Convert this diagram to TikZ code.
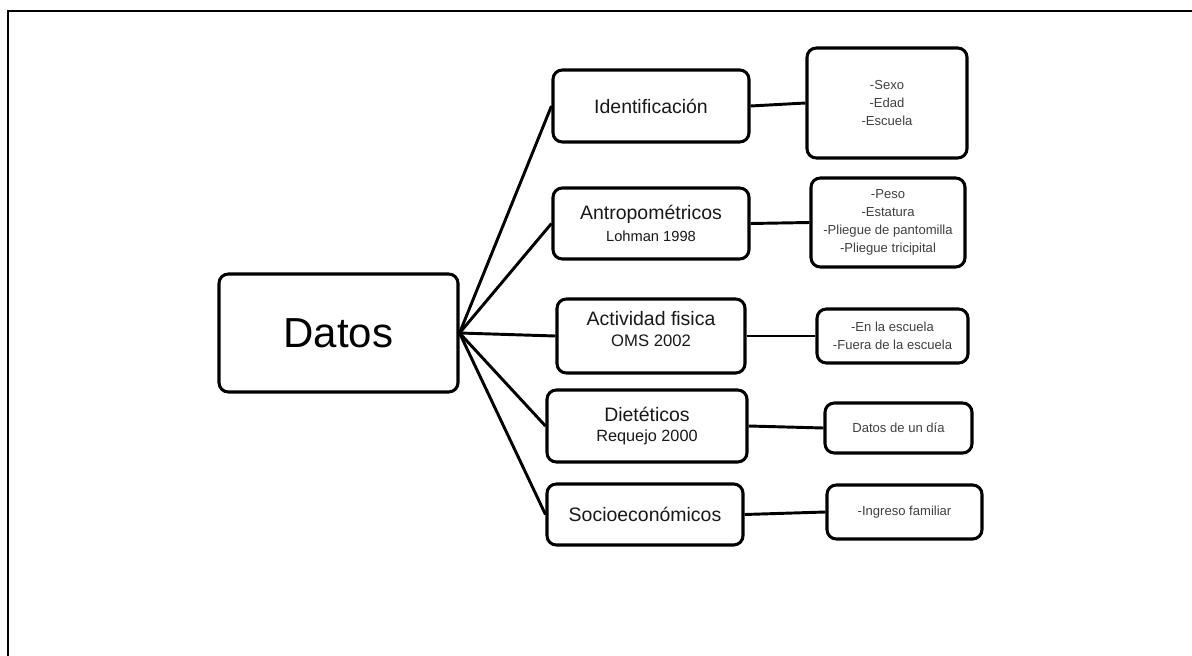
\documentclass[tikz,border=0pt]{standalone}
\usepackage{fontspec}
\setmainfont{Liberation Sans}
\begin{document}
\begin{tikzpicture}[x=0.75pt,y=-0.75pt,
  box/.style={draw=black,line width=2.3pt,rounded corners=7pt,inner sep=0pt,align=center,fill=white},
  conn/.style={draw=black,line width=2.2pt},
  smalltxt/.style={text=black!75,font=\fontsize{9.8}{13.5}\selectfont},
  midtxt/.style={text=black!90,font=\fontsize{14.6}{17}\selectfont}]
\useasboundingbox (0,0) rectangle (1192,656);
\draw[line width=1.6pt] (8,656) -- (8,11) -- (1192,11);

% root
\node[box,minimum width=179.25pt,minimum height=88.5pt,font=\fontsize{31.5}{36}\selectfont] (datos) at (338.5,333) {Datos};

% middle column
\node[box,midtxt,minimum width=147pt,minimum height=54pt] (ident) at (651,106) {Identificación};
\node[box,midtxt,minimum width=147pt,minimum height=53.25pt] (antro) at (651,223.5) {Antropométricos\\[-1pt]{\fontsize{11}{17}\selectfont Lohman 1998}};
\node[box,midtxt,minimum width=141pt,minimum height=55.5pt] (activ) at (651,336) {Actividad fisica\\[-1pt]{\fontsize{12.5}{17}\selectfont OMS 2002}\\[-6.5pt]};
\node[box,midtxt,minimum width=150pt,minimum height=54pt] (diet) at (647,426) {Dietéticos\\[-2pt]{\fontsize{12.2}{17}\selectfont Requejo 2000}};
\node[box,midtxt,minimum width=147pt,minimum height=45.75pt] (socio) at (645,514.5) {Socioeconómicos};

% right column
\node[box,smalltxt,minimum width=120pt,minimum height=82.5pt] (sexo) at (887,103) {-Sexo\\-Edad\\-Escuela};
\node[box,smalltxt,minimum width=115.5pt,minimum height=66.75pt] (peso) at (888,222.5) {-Peso\\-Estatura\\-Pliegue de pantomilla\\-Pliegue tricipital};
\node[box,smalltxt,minimum width=113.25pt,minimum height=40.5pt] (esc) at (892.5,336) {-En la escuela\\-Fuera de la escuela};
\node[box,smalltxt,minimum width=110.25pt,minimum height=37.5pt] (dia) at (898.5,428) {Datos de un día};
\node[box,smalltxt,minimum width=116.25pt,minimum height=40.5pt] (ingreso) at (904.5,512) {-Ingreso familiar};

% connectors
\foreach \m in {ident,antro,activ,diet,socio}
  \draw[conn] (datos.east) -- (\m.west);
\draw[conn] (ident.east) -- (sexo.west);
\draw[conn] (antro.east) -- (peso.west);
\draw[conn] (activ.east) -- (esc.west);
\draw[conn] (diet.east) -- (dia.west);
\draw[conn] (socio.east) -- (ingreso.west);
\end{tikzpicture}
\end{document}
